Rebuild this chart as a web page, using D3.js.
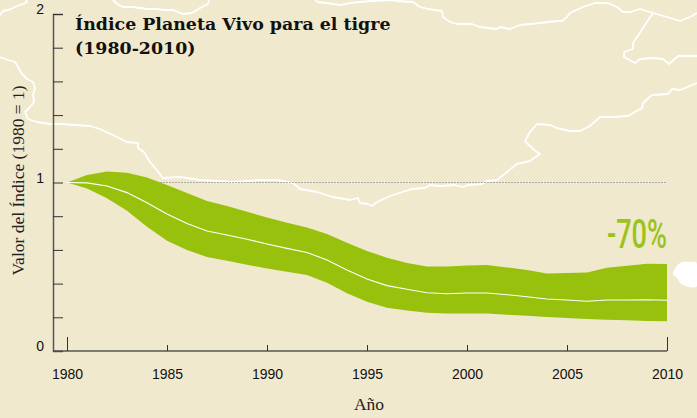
<!DOCTYPE html>
<html>
<head>
<meta charset="utf-8">
<script src="https://cdn.jsdelivr.net/npm/d3@7"></script>
<style>
  html, body { margin: 0; padding: 0; background: #f1e9ce; }
  svg { display: block; }
</style>
</head>
<body>
<script>
// values
const years = d3.range(1980, 2011);
const indexMean = [1, 0.998, 0.979, 0.94, 0.88, 0.813, 0.757, 0.712, 0.688, 0.663, 0.635, 0.609, 0.585, 0.54, 0.481, 0.427,
    0.388, 0.366, 0.346, 0.34, 0.344, 0.344, 0.334, 0.322, 0.309, 0.303, 0.295, 0.303, 0.303, 0.304, 0.301];
const indexUpper = [1, 1.045, 1.065, 1.058, 1.03, 0.985, 0.937, 0.89, 0.86, 0.827, 0.793, 0.761, 0.733, 0.694, 0.643, 0.593,
    0.554, 0.522, 0.502, 0.502, 0.508, 0.51, 0.496, 0.481, 0.46, 0.463, 0.466, 0.494, 0.506, 0.518, 0.516];
const indexLower = [1, 0.965, 0.906, 0.833, 0.738, 0.655, 0.6, 0.558, 0.536, 0.512, 0.49, 0.47, 0.451, 0.405, 0.342, 0.293,
    0.257, 0.241, 0.227, 0.223, 0.223, 0.223, 0.215, 0.209, 0.202, 0.196, 0.19, 0.186, 0.182, 0.178, 0.176];
const xTickValues = [1980, 1985, 1990, 1995, 2000, 2005, 2010];
const yTickValues = [0, 0.2, 0.4, 0.6, 0.8, 1, 1.2, 1.4, 1.6, 1.8, 2];
const yLabelled = [0, 1, 2];
const titleLines = ["Índice Planeta Vivo para el tigre", "(1980-2010)"];

// background map, just decoration behind the chart (page pixels)
const mapLines = [
    [[0,15],[3,11],[10,9.5],[17,6],[23,4],[27,2],[26,0]],
    [[113,0],[117,4],[123,7],[133,7],[147,9],[157,9],[163,10],[173,10],[183,14],[192,13],[200,8],[208,4],[209,0]],
    [[315,0],[318,2],[330,3.5],[340,5],[350,3],[370,1],[392,0],[397,1],[413,2],[420,7],[428,9],[442,11],[443,17],[450,22],
     [457,24],[472,24],[480,27],[497,29],[500,27],[510,29],[520,25],[540,23],[557,21],[562,21],[567,17],[570,13],[583,7],
     [595,3],[608,3],[617,7],[623,12],[630,12],[640,9],[653,13],[667,17],[680,21],[690,17],[697,13]],
    [[653,13],[637,37],[633,43],[633,49],[624,52],[624,57],[635,63],[640,59],[653,58],[663,59],[669,64],[678,56],[697,56]],
    [[0,57],[8,60],[15,62],[18,67],[22,74],[27,79],[33,82],[35,88],[33,95],[34,102],[30,107],[25,112],[28,119],[37,122],
     [50,124],[60,124],[90,126],[100,129],[117,137],[127,142],[138,143],[138,148],[144,152],[150,162],[155,168],[163,178],
     [180,177],[200,180],[233,182],[260,180],[277,180],[293,183],[300,189],[317,192],[333,197],[350,200],[358,198],[360,203],
     [368,204],[372,206],[377,202],[390,196],[412,189],[425,188],[430,185],[440,186],[455,185],[463,187],[468,185],[482,184],
     [487,181],[497,180],[507,172],[517,164],[530,161],[540,154],[533,149],[525,141],[530,132],[537,124],[550,125],[557,128],
     [570,131],[580,131],[590,126],[600,117],[613,117],[628,116],[642,108],[643,103],[652,95],[668,94],[672,89],[680,90],[697,83]]
];
const mapIsland = [[673,273],[680,263],[690,262],[697,264],[697,286],[683,285],[677,278]];

const width = 697, height = 418;
const margin = {top: 14, right: 30, bottom: 67, left: 53};

const svg = d3.select("body").append("svg")
    .attr("width", width)
    .attr("height", height);

const x = d3.scaleLinear().domain([1980, 2010]).range([67, 667]);
const y = d3.scaleLinear().domain([0, 2]).range([height - margin.bottom, margin.top]);

// map
const mapLine = d3.line();
svg.append("g").selectAll("path").data(mapLines).enter().append("path")
    .attr("d", mapLine)
    .attr("fill", "none")
    .attr("stroke", "#fff")
    .attr("stroke-width", 1.8)
    .attr("stroke-linejoin", "round");
svg.append("path")
    .attr("d", mapLine.curve(d3.curveCardinalClosed)(mapIsland))
    .attr("fill", "#fff");

// reference line at 1
svg.append("line")
    .attr("x1", x(1980)).attr("x2", x(2010))
    .attr("y1", y(1)).attr("y2", y(1))
    .attr("stroke", "#9a9a9a")
    .attr("stroke-width", 0.8)
    .attr("stroke-dasharray", "2,1");

// band and mean line
const band = d3.area()
    .x((d, i) => x(years[i]))
    .y0((d, i) => y(indexLower[i]))
    .y1((d, i) => y(indexUpper[i]));
svg.append("path")
    .attr("d", band(years))
    .attr("fill", "#97c10d");

const meanLine = d3.line()
    .x((d, i) => x(years[i]))
    .y(d => y(d));
svg.append("path")
    .attr("d", meanLine(indexMean))
    .attr("fill", "none")
    .attr("stroke", "#fff")
    .attr("stroke-width", 1.1);

// axes
const yAxis = d3.axisLeft(y)
    .tickValues(yTickValues)
    .tickSize(-10)
    .tickPadding(9)
    .tickFormat(d => yLabelled.includes(d) ? d : "");
const yG = svg.append("g")
    .attr("transform", `translate(${margin.left},0)`)
    .call(yAxis);
yG.select(".domain").attr("stroke", "#555").attr("stroke-width", 1.5);
yG.selectAll(".tick line").attr("stroke", "#333").attr("stroke-width", 1);
yG.selectAll(".tick text")
    .attr("dy", "-0.02em")
    .style("font", "14px 'Liberation Sans', Arial, sans-serif")
    .attr("fill", "#111");

const xAxis = d3.axisBottom(x)
    .tickValues(xTickValues)
    .tickSize(-6)
    .tickPadding(18)
    .tickFormat(d3.format("d"));
const xG = svg.append("g")
    .attr("transform", `translate(0,${height - margin.bottom})`)
    .call(xAxis);
xG.select(".domain")
    .attr("d", `M${margin.left},0H${x(2010)}`)
    .attr("stroke", "#555")
    .attr("stroke-width", 1.5);
xG.selectAll(".tick line")
    .attr("stroke", "#333")
    .attr("stroke-width", 1)
    .attr("y2", d => (d === 1980 || d === 2010) ? -14 : -6);
xG.selectAll(".tick text")
    .style("font", "14px 'Liberation Sans', Arial, sans-serif")
    .attr("fill", "#111");

// title
svg.append("g").selectAll("text").data(titleLines).enter().append("text")
    .attr("x", 75)
    .attr("y", (d, i) => 30 + i * 24)
    .attr("fill", "#111")
    .style("font", "bold 17.4px 'DejaVu Serif', serif")
    .text(d => d);

// axis titles
svg.append("text")
    .attr("transform", "translate(24,180.5) rotate(-90)")
    .attr("text-anchor", "middle")
    .attr("fill", "#222")
    .style("font", "17.5px 'Liberation Serif', serif")
    .text("Valor del Índice (1980 = 1)");
svg.append("text")
    .attr("x", 369)
    .attr("y", 410)
    .attr("text-anchor", "middle")
    .attr("fill", "#222")
    .style("font", "17.5px 'Liberation Serif', serif")
    .text("Año");

// change label
svg.append("text")
    .attr("x", 607)
    .attr("y", 248)
    .attr("textLength", 60)
    .attr("lengthAdjust", "spacingAndGlyphs")
    .attr("fill", "#9bc31c")
    .style("font", "500 40px Roboto, sans-serif")
    .text("-70%");
</script>
</body>
</html>
